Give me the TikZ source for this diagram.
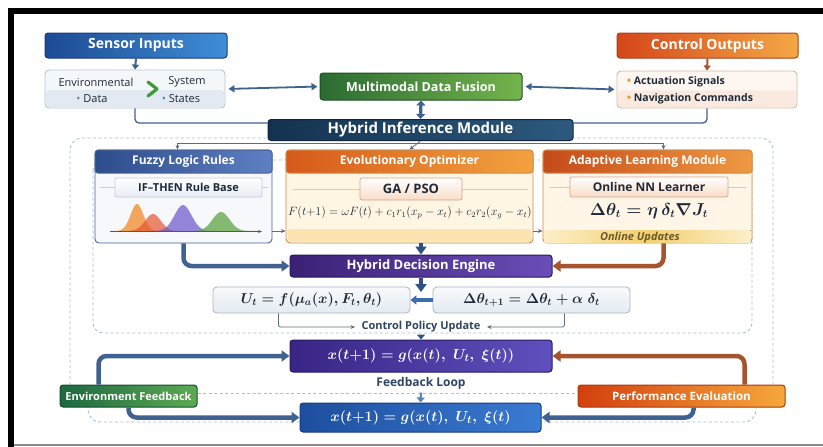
\documentclass[tikz,border=0pt]{standalone}
\usepackage{fontspec}
\setsansfont{Open Sans}
\usetikzlibrary{arrows.meta}
\definecolor{sensorL}{HTML}{1D4A94}\definecolor{sensorR}{HTML}{3F8ED6}\definecolor{sensorB}{HTML}{1A3C78}
\definecolor{subline}{HTML}{B5C3D2}\definecolor{subfill}{HTML}{F5F8FB}\definecolor{subband}{HTML}{E3E9F0}
\definecolor{fusionL}{HTML}{2B6B33}\definecolor{fusionR}{HTML}{74B44C}\definecolor{fusionB}{HTML}{1F4F25}
\definecolor{controlL}{HTML}{D4461A}\definecolor{controlR}{HTML}{F3A845}\definecolor{controlB}{HTML}{A8401A}
\definecolor{ctlline}{HTML}{D9B9A3}\definecolor{ctlfill}{HTML}{FDF6F1}\definecolor{ctlband}{HTML}{F9E9DE}
\definecolor{infL}{HTML}{14324F}\definecolor{infR}{HTML}{2C5A7E}\definecolor{infB}{HTML}{0E253D}
\definecolor{fuzzyL}{HTML}{2D4C8C}\definecolor{fuzzyR}{HTML}{5E7FC2}\definecolor{fuzzyB}{HTML}{4A6496}
\definecolor{fuzzyfill}{HTML}{F6F8FC}\definecolor{fuzzytab}{HTML}{C3CCDA}\definecolor{fuzzytabbot}{HTML}{E7ECF4}
\definecolor{evoL}{HTML}{D65A1A}\definecolor{evoR}{HTML}{F2A23E}\definecolor{evoB}{HTML}{D08A48}
\definecolor{evofill}{HTML}{FFF5E3}\definecolor{evoband}{HTML}{FBE3B2}\definecolor{evotab}{HTML}{D9A38A}\definecolor{evotabbot}{HTML}{F8DCC7}
\definecolor{adaptL}{HTML}{C64A1A}\definecolor{adaptR}{HTML}{EE9A42}\definecolor{adaptB}{HTML}{D08848}\definecolor{adaptfill}{HTML}{FFF6E8}
\definecolor{bandgold}{HTML}{F2CF72}\definecolor{bandpale}{HTML}{FCEFC8}
\definecolor{decL}{HTML}{3B2175}\definecolor{decR}{HTML}{6B4DB8}\definecolor{decB}{HTML}{2A175A}
\definecolor{dynL}{HTML}{3A2585}\definecolor{dynR}{HTML}{5E50BE}\definecolor{dynB}{HTML}{281A62}
\definecolor{envL}{HTML}{1D6840}\definecolor{envR}{HTML}{5DAA52}\definecolor{envB}{HTML}{174E2E}
\definecolor{perfL}{HTML}{D33F0E}\definecolor{perfR}{HTML}{F6A83C}\definecolor{perfB}{HTML}{A8380E}
\definecolor{dyntwoL}{HTML}{1E4E9E}\definecolor{dyntwoR}{HTML}{3A7BD2}\definecolor{dyntwoB}{HTML}{163C7E}
\definecolor{eqline}{HTML}{A7B5C6}\definecolor{eqtop}{HTML}{F7F9FB}\definecolor{eqbot}{HTML}{E5EBF1}
\definecolor{steel}{HTML}{3F6290}\definecolor{navyarrow}{HTML}{2D5087}\definecolor{brownarrow}{HTML}{A4552F}
\definecolor{blueshort}{HTML}{3E6CAE}\definecolor{lightarrow}{HTML}{5B84B8}
\definecolor{feedgray}{HTML}{5E6C7C}\definecolor{tabline}{HTML}{C8CCD4}\definecolor{dashblue}{HTML}{A9BDD5}
\definecolor{inktext}{HTML}{1F2A38}\definecolor{slate}{HTML}{2E4460}\definecolor{olive}{HTML}{6E5A26}
\definecolor{dotgray}{HTML}{7C7F95}\definecolor{dotblue}{HTML}{3A8BD0}\definecolor{dotorange}{HTML}{E8922A}
\definecolor{chevgreen}{HTML}{3C9A3C}\definecolor{framegray}{HTML}{8A8A8A}
\definecolor{mfOrange}{HTML}{F08A28}\definecolor{mfRed}{HTML}{E4572E}\definecolor{mfPurple}{HTML}{6B55CC}
\definecolor{mfGreen}{HTML}{5FA445}\definecolor{mfaxis}{HTML}{4E5968}
\newcommand{\bxfont}[1]{\sffamily\bfseries\fontsize{#1}{#1}\selectfont}
\begin{document}
\begin{tikzpicture}[x=1pt, y=-1pt,
    banner/.style={draw, line width=1pt, rounded corners=3pt, text=white, inner sep=0pt},
    panel/.style={draw, line width=0.9pt, rounded corners=4pt, inner sep=0pt},
    tabbox/.style={draw, line width=0.7pt, rounded corners=2pt, inner sep=0pt, font=\bxfont{11}, text=inktext},
    eqbox/.style={draw=eqline, line width=0.8pt, rounded corners=4pt, top color=eqtop, bottom color=eqbot,
        inner sep=0pt, text=inktext, font=\boldmath\fontsize{14.5}{16}\selectfont},
    fat/.style={line width=4.5pt, rounded corners=8pt, -{Triangle[length=8pt,width=11pt]}},
    feed/.style={line width=0.8pt, draw=feedgray, -{Stealth[length=4.5pt,width=4pt]}},
    dbl/.style={line width=1.8pt, {Triangle[length=6pt,width=7pt]}-{Triangle[length=6pt,width=7pt]}},
    guide/.style={draw=dashblue, line width=0.9pt, dash pattern=on 3pt off 2.5pt, rounded corners=12pt},
    subtxt/.style={font=\sffamily\fontsize{11}{12}\selectfont, text=inktext, inner sep=0pt},
    chev/.style={line width=3.2pt, draw=chevgreen, line cap=round, line join=round}
]
    \useasboundingbox (0,0) rectangle (823,447);
    \fill[white] (0,0) rectangle (823,447);
    % frame
    \fill[black] (8,8) rectangle (823,14);
    \fill[black] (8,8) rectangle (14,447);
    \fill[framegray] (14,444) rectangle (823,446);
    % dashed regions
    \draw[guide] (70,390) -- (70,138) -- (773,138) -- (773,390);
    \draw[guide] (88,405) -- (88,422) -- (756,422) -- (756,405);
    \draw[guide, rounded corners=10pt] (93,160) rectangle (752,333);

    % sensor side
    \node[banner, draw=sensorB, left color=sensorL, right color=sensorR, minimum width=182pt, minimum height=25pt,
        font=\bxfont{14}] (sensor) at (136,45.5) {Sensor Inputs};
    \node[panel, draw=subline, fill=subfill, minimum width=180pt, minimum height=38pt] (sensorsub) at (135,89) {};
    \fill[subband, rounded corners=3pt] (46,90) rectangle (224,107.5);
    \node[subtxt] (envlbl) at (96,82) {Environmental};
    \node[subtxt] (syslbl) at (187,82) {System};
    \node[subtxt] (datalbl) at (92,99) {\textcolor{dotgray}{\textbullet}\ Data};
    \node[subtxt] (statelbl) at (181,99) {\textcolor{dotblue}{\textbullet}\ States};
    \draw[chev] (148,82) -- (157,89) -- (148,96);

    % fusion and outputs
    \node[banner, draw=fusionB, left color=fusionL, right color=fusionR, minimum width=202pt, minimum height=27pt,
        font=\bxfont{12.5}] (fusion) at (421,86.5) {Multimodal Data Fusion};
    \node[banner, draw=controlB, left color=controlL, right color=controlR, minimum width=181pt, minimum height=25pt,
        font=\bxfont{14}] (control) at (707.5,45.5) {Control Outputs};
    \node[panel, draw=ctlline, fill=ctlfill, minimum width=180pt, minimum height=37pt] (controlsub) at (707,89.5) {};
    \fill[ctlband, rounded corners=3pt] (618,90.5) rectangle (796,107);
    \node[subtxt, font=\bxfont{10.5}, anchor=west] (actlbl) at (627,82) {\textcolor{dotorange}{\textbullet}\ Actuation Signals};
    \node[subtxt, font=\bxfont{10.5}, anchor=west] (navlbl) at (627,99) {\textcolor{dotorange}{\textbullet}\ Navigation Commands};
    \node[banner, draw=infB, left color=infL, right color=infR, minimum width=305pt, minimum height=21pt,
        font=\bxfont{15}] (inference) at (420.5,130) {Hybrid Inference Module};

    % top connectors
    \draw[line width=2pt, steel, -{Triangle[length=5pt,width=7pt]}] (sensor.south) -- (sensorsub.north);
    \draw[line width=2pt, brownarrow, -{Triangle[length=5pt,width=7pt]}] (control.south) -- (controlsub.north);
    \draw[dbl, steel, shorten <=3pt, shorten >=2pt] (sensorsub.east) -- (fusion.west);
    \draw[dbl, steel, shorten <=3pt, shorten >=2pt] (fusion.east) -- (controlsub.west);
    \draw[line width=3.2pt, steel, {Triangle[length=5pt,width=9pt]}-{Triangle[length=5pt,width=9pt]}] (fusion.south) -- (inference.north);
    \draw[line width=1.3pt, steel, rounded corners=4pt] (sensorsub.south) |- ([yshift=7pt]inference.west);
    \draw[line width=1.3pt, steel, rounded corners=4pt] (controlsub.south) |- ([yshift=7pt]inference.east);

    % fuzzy module
    \node[panel, draw=fuzzyB, fill=fuzzyfill, minimum width=177pt, minimum height=93pt] (fuzzy) at (183.5,196.5) {};
    \node[banner, draw=fuzzyB, left color=fuzzyL, right color=fuzzyR, minimum width=177pt, minimum height=23pt,
        font=\bxfont{12}, anchor=north] (fuzzyhd) at (fuzzy.north) {Fuzzy Logic Rules};
    \draw[line width=0.6pt, tabline] (100,187.5) -- (268,187.5);
    \node[tabbox, draw=fuzzytab, top color=white, bottom color=fuzzytabbot, minimum width=147pt, minimum height=19pt]
        (ifthen) at (188.5,187.5) {IF–THEN Rule Base};
    \fill[mfOrange, opacity=.75] (112,231) -- plot[domain=112:168, samples=40] (\x, {231-27*exp(-((\x-137)/9)*((\x-137)/9))}) -- (168,231) -- cycle;
    \fill[mfRed, opacity=.7] (120,231) -- plot[domain=120:190, samples=40] (\x, {231-17*exp(-((\x-153)/11)*((\x-153)/11))}) -- (190,231) -- cycle;
    \fill[mfPurple, opacity=.7] (145,231) -- plot[domain=145:222, samples=40] (\x, {231-26*exp(-((\x-183)/12)*((\x-183)/12))}) -- (222,231) -- cycle;
    \fill[mfGreen, opacity=.75] (188,231) -- plot[domain=188:256, samples=40] (\x, {231-19*exp(-((\x-221)/12)*((\x-221)/12))}) -- (256,231) -- cycle;
    \draw[mfaxis, line width=0.8pt, -{Stealth[length=4pt]}] (110,231.5) -- (262,231.5);

    % evolutionary module
    \node[panel, draw=evoB, fill=evofill, minimum width=247pt, minimum height=93pt] (evo) at (409.5,196.5) {};
    \fill[evoband, rounded corners=3pt] (287.5,229) rectangle (531.5,241.5);
    \node[banner, draw=evoB, left color=evoL, right color=evoR, minimum width=247pt, minimum height=23pt,
        font=\bxfont{12}, anchor=north] (evohd) at (evo.north) {Evolutionary Optimizer};
    \draw[line width=0.6pt, tabline] (293,189) -- (528,189);
    \node[tabbox, draw=evotab, top color=white, bottom color=evotabbot, minimum width=102pt, minimum height=22pt,
        font=\bxfont{13}] (gapso) at (411,189) {GA / PSO};
    \node[font=\fontsize{11.5}{13}\selectfont, text=inktext] (psoeq) at (410,213)
        {$F(t{+}1) = \omega F(t) + c_1 r_1(x_p - x_t) + c_2 r_2(x_g - x_t)$};

    % adaptive module
    \node[panel, draw=adaptB, fill=adaptfill, minimum width=209pt, minimum height=93pt] (adapt) at (647.5,196.5) {};
    \fill[left color=bandpale, right color=bandpale, middle color=bandgold] (544.5,230) rectangle (750.5,242.5);
    \node[banner, draw=adaptB, left color=adaptL, right color=adaptR, minimum width=209pt, minimum height=23pt,
        font=\bxfont{12}, anchor=north] (adapthd) at (adapt.north) {Adaptive Learning Module};
    \draw[line width=0.6pt, tabline] (550,187) -- (746,187);
    \node[tabbox, draw=evotab, top color=white, bottom color=evotabbot, minimum width=158pt, minimum height=20pt,
        font=\bxfont{12}] (nnlearn) at (649,187) {Online NN Learner};
    \node[font=\boldmath\fontsize{16}{18}\selectfont, text=inktext] (nneq) at (649,211) {$\Delta\theta_t = \eta\,\delta_t \nabla J_t$};
    \node[font=\sffamily\bfseries\itshape\fontsize{11}{12}\selectfont, text=olive] (online) at (640,238) {Online Updates};

    % branch into modules
    \coordinate (split) at (421,143);
    \coordinate (fzin) at ([xshift=-6pt]fuzzyhd.north);
    \coordinate (adin) at ([xshift=16pt]adapthd.north);
    \draw[line width=0.9pt, feedgray] (fzin |- split) -- (adin |- split);
    \draw[feed] (fzin |- split) -- (fzin);
    \draw[feed] (inference.south) -- (evohd.north);
    \draw[feed] (adin |- split) -- (adin);
    \draw[feed] ([yshift=-34.5pt]fuzzy.east) -- ([yshift=-34.5pt]evo.west);
    \draw[feed] ([yshift=-34.5pt]evo.east) -- ([yshift=-34.5pt]adapt.west);

    % decision engine
    \node[banner, draw=decB, left color=decL, right color=decR, minimum width=262pt, minimum height=22pt,
        font=\bxfont{13}] (decision) at (421,266) {Hybrid Decision Engine};
    \draw[fat, steel] (fuzzy.south) |- (decision.west);
    \draw[fat, navyarrow] (evo.south -| decision.north) -- (decision.north);
    \draw[fat, brownarrow] (adin |- adapt.south) |- (decision.east);

    % policy equations
    \node[eqbox, minimum width=197pt, minimum height=26pt] (ueq) at (311.5,300) {$U_t = f(\mu_a(x), F_t, \theta_t)$};
    \node[eqbox, minimum width=197pt, minimum height=26pt] (deq) at (531.5,300) {$\Delta\theta_{t+1} = \Delta\theta_t + \alpha\ \delta_t$};
    \coordinate (eqgap) at (421,292);
    \draw[fat, navyarrow] (decision.south) -- (eqgap);
    \draw[line width=3.5pt, blueshort, -{Triangle[length=6pt,width=9pt]}] (deq.west) -- (ueq.east);
    \node[font=\bxfont{11}, text=slate] (policy) at (421,327) {Control Policy Update};
    \draw[feed, rounded corners=2pt, shorten >=3pt] ([xshift=-33pt]ueq.south) |- (policy.west);
    \draw[feed, rounded corners=2pt, shorten >=3pt] ([xshift=33pt]deq.south) |- (policy.east);

    % system dynamics and feedback loop
    \node[banner, draw=dynB, left color=dynL, right color=dynR, minimum width=262pt, minimum height=32pt,
        font=\boldmath\fontsize{15.5}{17}\selectfont] (dynone) at (421,356) {$x(t{+}1) = g(x(t),\ U_t,\ \xi(t))$};
    \draw[line width=2pt, navyarrow, -{Triangle[length=5pt,width=8pt]}] (policy.south) -- (dynone.north);
    \node[banner, draw=envB, left color=envL, right color=envR, minimum width=137pt, minimum height=22pt,
        font=\bxfont{11}] (envfb) at (128.5,396) {Environment Feedback};
    \node[banner, draw=perfB, left color=perfL, right color=perfR, minimum width=207pt, minimum height=22pt,
        font=\bxfont{11.5}] (perf) at (681.5,396) {Performance Evaluation};
    \node[font=\bxfont{12}, text=slate] (loop) at (421,383) {Feedback Loop};
    \draw[guide, rounded corners=0pt] ([yshift=3pt]envfb.east) -- ([yshift=3pt]perf.west);
    \node[banner, draw=dyntwoB, left color=dyntwoL, right color=dyntwoR, minimum width=241pt, minimum height=29pt,
        font=\boldmath\fontsize{15.5}{17}\selectfont] (dyntwo) at (420.5,417.5) {$x(t{+}1) = g(x(t),\ U_t,\ \xi(t)$};
    \draw[line width=2.2pt, lightarrow, -{Triangle[length=5pt,width=8pt]}] (loop.south) -- (dyntwo.north);
    \coordinate (envup) at ([xshift=-30pt]envfb.north);
    \coordinate (perfup) at ([xshift=63pt]perf.north);
    \coordinate (perfdn) at ([xshift=12pt]perf.south);
    \draw[fat, steel] (envup) |- (dynone.west);
    \draw[fat, brownarrow] (perfup) |- (dynone.east);
    \draw[fat, steel] (envfb.south) |- (dyntwo.west);
    \draw[fat, steel] (perfdn) |- (dyntwo.east);
\end{tikzpicture}
\end{document}
